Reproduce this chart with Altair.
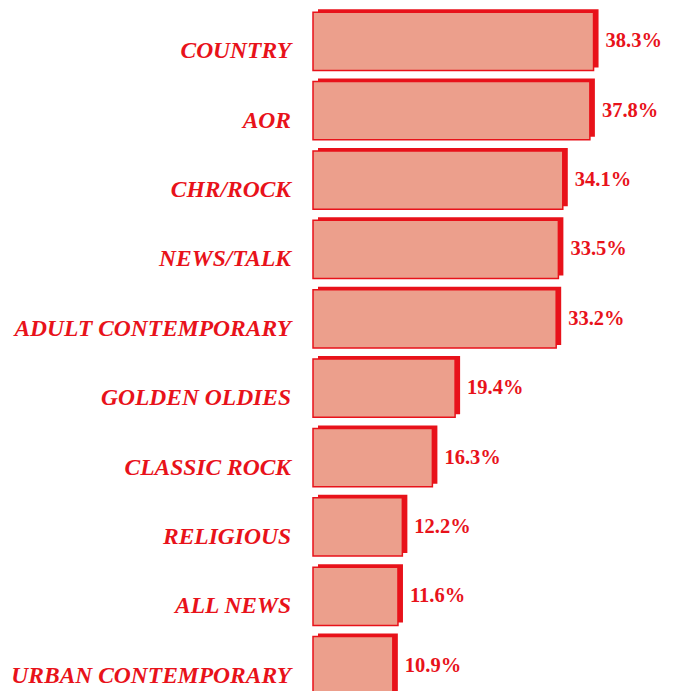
import altair as alt
import pandas as pd

categories = ["COUNTRY", "AOR", "CHR/ROCK", "NEWS/TALK", "ADULT CONTEMPORARY",
              "GOLDEN OLDIES", "CLASSIC ROCK", "RELIGIOUS", "ALL NEWS", "URBAN CONTEMPORARY"]
values = [38.3, 37.8, 34.1, 33.5, 33.2, 19.4, 16.3, 12.2, 11.6, 10.9]
value_labels = ["38.3%", "37.8%", "34.1%", "33.5%", "33.2%", "19.4%", "16.3%", "12.2%", "11.6%", "10.9%"]

df = pd.DataFrame({"cat": categories, "val": values, "lab": value_labels})

RED = "#E8121A"
FACE = "#EC9F8C"

x = alt.X("val:Q", scale=alt.Scale(domain=[0, 40]), axis=None)
y = alt.Y("cat:N", sort=categories, axis=None,
          scale=alt.Scale(paddingInner=0.16, paddingOuter=0.06))

base = alt.Chart(df)

shadow = base.mark_bar(color=RED, xOffset=5, yOffset=-3).encode(x=x, y=y)
face = base.mark_bar(color=FACE, stroke=RED, strokeWidth=1.5).encode(x=x, y=y)

vals = base.mark_text(align="left", baseline="middle", dx=12, font="Liberation Serif",
                      fontSize=20.5, fontWeight="bold", color=RED).encode(x=x, y=y, text="lab:N")

labels = base.mark_text(align="right", baseline="middle", dy=10, font="Liberation Serif",
                        fontStyle="italic", fontWeight="bold", fontSize=23.5, color=RED).encode(
    x=alt.value(-22), y=y, text="cat:N")

chart = alt.layer(shadow, face, vals, labels).properties(
    width=293, height=691,
    autosize=alt.AutoSizeParams(type="none"),
    padding={"left": 305, "top": 0, "right": 58, "bottom": 0},
).configure_view(stroke=None)

chart.save("out.html", embed_options={"renderer": "svg", "actions": False})
